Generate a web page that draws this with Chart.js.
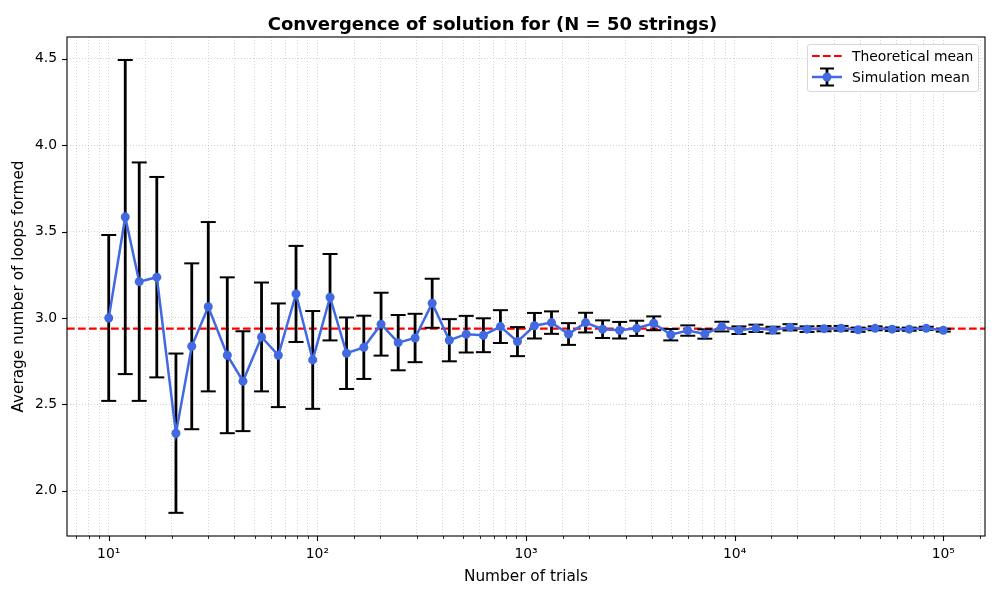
<!DOCTYPE html>
<html>
<head>
<meta charset="utf-8">
<script src="https://cdn.jsdelivr.net/npm/chart.js@4.4.0/dist/chart.umd.min.js"></script>
<style>
  html, body { margin: 0; padding: 0; background: #fff; }
  #wrap { position: relative; width: 1000px; height: 600px; }
  #legend { position: absolute; left: 807px; top: 44px; width: 170px; height: 46px;
    border: 1px solid #d6d6d6; border-radius: 3px; background: rgba(255,255,255,0.8);
    font-family: 'DejaVu Sans'; font-size: 13.9px; color: #000; }
  .row { position: absolute; left: 4px; height: 20px; display: flex; align-items: center; white-space: nowrap; }
  .row svg { display: block; }
  .row span { margin-left: 10px; }
</style>
</head>
<body>
<div id="wrap">
  <canvas id="chart" width="1000" height="600"></canvas>
  <div id="legend">
    <div class="row" style="top:0.7px">
      <svg width="30" height="20"><line x1="0" y1="10" x2="30" y2="10" stroke="red" stroke-width="2.1" stroke-dasharray="7.7 3.3"/></svg>
      <span>Theoretical mean</span>
    </div>
    <div class="row" style="top:22.3px">
      <svg width="30" height="20">
        <line x1="15" y1="1.5" x2="15" y2="18.5" stroke="#000" stroke-width="2.8"/>
        <line x1="8" y1="1.5" x2="22" y2="1.5" stroke="#000" stroke-width="2"/>
        <line x1="8" y1="18.5" x2="22" y2="18.5" stroke="#000" stroke-width="2"/>
        <line x1="0" y1="10" x2="30" y2="10" stroke="royalblue" stroke-width="2.5"/>
        <circle cx="15" cy="10" r="4.5" fill="royalblue"/>
      </svg>
      <span>Simulation mean</span>
    </div>
  </div>
</div>
<script>
// ---------- Data
const trials = [10, 12, 14, 17, 21, 25, 30, 37, 44, 54, 65, 79, 95, 115, 138, 167, 202, 244, 294, 355,
  429, 517, 625, 754, 910, 1098, 1325, 1599, 1930, 2329, 2811, 3393, 4094, 4941, 5963, 7196, 8685,
  10481, 12648, 15264, 18420, 22229, 26826, 32374, 39069, 47148, 56898, 68664, 82864, 100000];
const meanLoops = [3.00, 3.584, 3.21, 3.236, 2.333, 2.836, 3.065, 2.784, 2.634, 2.890, 2.784, 3.139, 2.757,
  3.120, 2.796, 2.830, 2.964, 2.857, 2.884, 3.085, 2.871, 2.906, 2.900, 2.950, 2.863, 2.955, 2.973, 2.907,
  2.973, 2.935, 2.929, 2.940, 2.969, 2.903, 2.927, 2.907, 2.950, 2.929, 2.940, 2.930, 2.946, 2.935, 2.938,
  2.940, 2.932, 2.940, 2.935, 2.935, 2.940, 2.929];
const errLoops = [0.48, 0.909, 0.69, 0.58, 0.461, 0.48, 0.49, 0.451, 0.289, 0.315, 0.30, 0.278, 0.283,
  0.25, 0.207, 0.183, 0.182, 0.16, 0.14, 0.142, 0.122, 0.106, 0.098, 0.095, 0.084, 0.074, 0.065, 0.063,
  0.057, 0.051, 0.048, 0.044, 0.04, 0.033, 0.03, 0.027, 0.028, 0.022, 0.021, 0.019, 0.018, 0.016, 0.015,
  0.014, 0.012, 0.011, 0.010, 0.009, 0.009, 0.008];
const theoreticalMean = 2.938;
const xLimits = [6.3096, 158489];
const yLimits = [1.738, 4.626];
const xMajorTicks = [10, 100, 1000, 10000, 100000];
const xTickLabels = ['10\u00B9', '10\u00B2', '10\u00B3', '10\u2074', '10\u2075'];

const FONT = 'DejaVu Sans';
const gridColor = 'rgba(160,160,160,0.6)';
const isMajorX = v => xMajorTicks.findIndex(m => Math.abs(m - v) < m * 1e-6);

// ---------- Frame (all four spines) and matplotlib-like tick marks
const axesFrame = {
  id: 'axesFrame',
  afterDraw(chart) {
    const {ctx, chartArea: a, scales: {x, y}} = chart;
    ctx.save();
    ctx.strokeStyle = '#000';
    ctx.lineWidth = 1.1;
    ctx.strokeRect(a.left, a.top, a.right - a.left, a.bottom - a.top);
    x.ticks.forEach(t => {
      const px = Math.round(x.getPixelForValue(t.value)) + 0.5;
      const major = isMajorX(t.value) >= 0;
      ctx.lineWidth = major ? 1.1 : 0.8;
      ctx.beginPath(); ctx.moveTo(px, a.bottom); ctx.lineTo(px, a.bottom + (major ? 5 : 3)); ctx.stroke();
    });
    ctx.lineWidth = 1.1;
    y.ticks.forEach(t => {
      const py = Math.round(y.getPixelForValue(t.value)) + 0.5;
      ctx.beginPath(); ctx.moveTo(a.left - 5, py); ctx.lineTo(a.left, py); ctx.stroke();
    });
    ctx.restore();
  }
};

const simPoints = trials.map((t, i) => ({x: t, y: meanLoops[i]}));
const errPoints = trials.flatMap((t, i) => [
  {x: t, y: meanLoops[i] - errLoops[i]}, {x: t, y: meanLoops[i] + errLoops[i]}, {x: t, y: null}]);
const theoryPoints = xLimits.map(v => ({x: v, y: theoreticalMean}));

new Chart(document.getElementById('chart'), {
  type: 'line',
  data: {
    datasets: [
      {label: 'Simulation mean', data: simPoints, borderColor: 'royalblue', borderWidth: 2.5,
        pointRadius: 4.5, pointBackgroundColor: 'royalblue', pointBorderWidth: 0, order: 0},
      {label: 'errors', data: errPoints, borderColor: '#000', borderWidth: 2.8, spanGaps: false,
        pointStyle: 'line', pointRadius: 7.5, pointBorderWidth: 2, pointBorderColor: '#000', order: 1},
      {label: 'Theoretical mean', data: theoryPoints, borderColor: 'red', borderWidth: 2.1,
        borderDash: [7.7, 3.3], pointRadius: 0, order: 2}
    ]
  },
  options: {
    responsive: false,
    animation: false,
    events: [],
    layout: {padding: {left: 0, right: 15, top: 0, bottom: 0}},
    plugins: {
      legend: {display: false},
      tooltip: {enabled: false},
      title: {display: true, text: 'Convergence of solution for (N = 50 strings)', color: '#000',
        font: {family: FONT, size: 18, weight: 'bold'}, padding: {top: 14.4, bottom: 1}}
    },
    scales: {
      x: {
        type: 'logarithmic', min: xLimits[0], max: xLimits[1],
        afterBuildTicks: s => { s.ticks = s.ticks.filter(t => t.value > s.min * 1.0001 && t.value < s.max * 0.9999); },
        afterFit: s => { s.height = 64; },
        ticks: {autoSkip: false, maxRotation: 0, color: '#000', padding: 10, font: {family: FONT, size: 13.9},
          callback: v => { const k = isMajorX(v); return k >= 0 ? xTickLabels[k] : ''; }},
        grid: {drawTicks: false, color: gridColor, lineWidth: 0.8},
        border: {display: false, dash: [1, 2]},
        title: {display: true, text: 'Number of trials', color: '#000', font: {family: FONT, size: 15.3},
          padding: {top: 0, bottom: 13.8}}
      },
      y: {
        type: 'linear', min: yLimits[0], max: yLimits[1],
        afterFit: s => { s.width = 67; },
        ticks: {stepSize: 0.5, includeBounds: false, color: '#000', padding: 10, font: {family: FONT, size: 13.9},
          callback: v => v.toFixed(1)},
        grid: {drawTicks: false, color: gridColor, lineWidth: 0.8},
        border: {display: false, dash: [1, 2]},
        title: {display: true, text: 'Average number of loops formed', color: '#000', font: {family: FONT, size: 15.3},
          padding: {top: 9.5, bottom: 0}}
      }
    }
  },
  plugins: [axesFrame]
});
</script>
</body>
</html>
